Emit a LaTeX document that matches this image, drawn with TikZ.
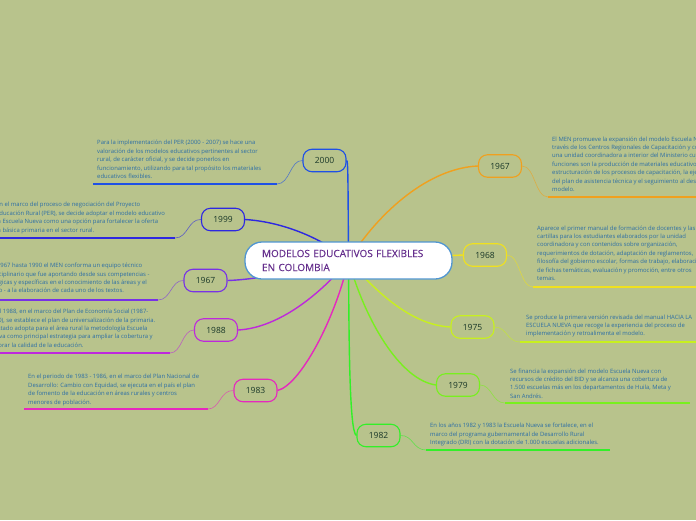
\documentclass[tikz,border=0pt]{standalone}
\usepackage{fontspec}
\setmainfont{Open Sans}
\newfontfamily\titlefont[FakeBold=0.4]{Open Sans}
\pgfdeclarelayer{bg}
\pgfdeclarelayer{edges}
\pgfsetlayers{bg,edges,main}
\definecolor{bgc}{RGB}{184,195,140}
\definecolor{desctext}{RGB}{45,110,165}
\definecolor{yeartext}{RGB}{25,55,40}
\definecolor{ctrtext}{RGB}{100,45,140}
\definecolor{ctrborder}{RGB}{80,150,210}
\definecolor{cA}{RGB}{30,80,230}
\definecolor{cB}{RGB}{45,40,225}
\definecolor{cC}{RGB}{120,50,230}
\definecolor{cD}{RGB}{190,40,220}
\definecolor{cE}{RGB}{230,40,190}
\definecolor{cF}{RGB}{240,160,30}
\definecolor{cG}{RGB}{240,225,30}
\definecolor{cH}{RGB}{200,240,30}
\definecolor{cI}{RGB}{120,240,30}
\definecolor{cJ}{RGB}{50,240,40}
\begin{document}
\begin{tikzpicture}[x=1pt,y=-1pt,
  year/.style={draw, rounded corners=9pt, minimum width=43pt, minimum height=22.5pt, line width=1.1pt, font=\fontsize{8.5}{9}\selectfont, text=yeartext, inner sep=0pt},
  desc/.style={anchor=west, align=left, inner sep=0pt, font=\fontsize{5.9}{8.4}\selectfont, text=desctext},
  branch/.style={line width=1.4pt},
  leader/.style={line width=0.6pt, opacity=0.65},
  uline/.style={line width=1.6pt}]
\useasboundingbox (0,0) rectangle (696,520);
\begin{pgfonlayer}{bg}
\fill[bgc] (0,0) rectangle (696,520);
\end{pgfonlayer}
\clip (0,0) rectangle (696,520);

% central node
\node[draw=ctrborder, fill=white, line width=1.3pt, rounded corners=17pt, minimum width=207pt, minimum height=37pt, text width=173pt, align=left, inner xsep=17pt, inner ysep=0pt, font=\titlefont\fontsize{10}{14}\selectfont, text=ctrtext] (ctr) at (348.5,260.5) {MODELOS EDUCATIVOS FLEXIBLES\\EN COLOMBIA};

% year nodes
\node[year, draw=cA] (y2000) at (324.5,160.5) {2000};
\node[year, draw=cB] (y1999) at (223,219.5) {1999};
\node[year, draw=cC] (y1967l) at (205.5,280.5) {1967};
\node[year, draw=cD] (y1988) at (216,330) {1988};
\node[year, draw=cE] (y1983) at (255.5,390.5) {1983};
\node[year, draw=cF] (y1967r) at (500,166) {1967};
\node[year, draw=cG] (y1968) at (485,255) {1968};
\node[year, draw=cH] (y1975) at (472.5,327) {1975};
\node[year, draw=cI] (y1979) at (458,385) {1979};
\node[year, draw=cJ] (y1982) at (378.5,435.5) {1982};

% underline end points
\coordinate (a2000) at (277,184); \coordinate (b2000) at (93,184);
\coordinate (a1999) at (175,238); \coordinate (b1999) at (0,238);
\coordinate (a1967l) at (158,300); \coordinate (b1967l) at (0,300);
\coordinate (a1988) at (170,353); \coordinate (b1988) at (0,353);
\coordinate (a1983) at (208,409); \coordinate (b1983) at (24,409);
\coordinate (a1967r) at (548,197); \coordinate (b1967r) at (696,197);
\coordinate (a1968) at (533,287); \coordinate (b1968) at (696,287);
\coordinate (a1975) at (520,342); \coordinate (b1975) at (696,342);
\coordinate (a1979) at (505,403); \coordinate (b1979) at (690,403);
\coordinate (a1982) at (426,450); \coordinate (b1982) at (610,450);

\begin{pgfonlayer}{edges}
% branches
\draw[branch, cA] (y2000.east) .. controls (348,160) and (348,175) .. (ctr.center);
\draw[branch, cB] (y1999.east) .. controls (285,222) and (325,240) .. (ctr.center);
\draw[branch, cC] (y1967l.east) .. controls (250,280) and (300,272) .. (ctr.center);
\draw[branch, cD] (y1988.east) .. controls (275,328) and (315,300) .. (ctr.center);
\draw[branch, cE] (y1983.east) .. controls (300,385) and (335,320) .. (ctr.center);
\draw[branch, cF] (y1967r.west) .. controls (430,168) and (380,210) .. (ctr.center);
\draw[branch, cG] (y1968.west) -- (ctr.center);
\draw[branch, cH] (y1975.west) .. controls (410,325) and (375,290) .. (ctr.center);
\draw[branch, cI] (y1979.west) .. controls (400,380) and (365,320) .. (ctr.center);
\draw[branch, cJ] (y1982.west) .. controls (349,433) and (349,330) .. (ctr.center);
% leaders
\draw[leader, cA] (y2000.west) .. controls (290,160) and (290,184) .. (a2000);
\draw[leader, cB] (y1999.west) .. controls (188,219) and (188,238) .. (a1999);
\draw[leader, cC] (y1967l.west) .. controls (171,280) and (171,300) .. (a1967l);
\draw[leader, cD] (y1988.west) .. controls (182,330) and (182,353) .. (a1988);
\draw[leader, cE] (y1983.west) .. controls (220,390) and (220,409) .. (a1983);
\draw[leader, cF] (y1967r.east) .. controls (535,166) and (535,197) .. (a1967r);
\draw[leader, cG] (y1968.east) .. controls (520,255) and (520,287) .. (a1968);
\draw[leader, cH] (y1975.east) .. controls (507,327) and (507,342) .. (a1975);
\draw[leader, cI] (y1979.east) .. controls (492,385) and (492,403) .. (a1979);
\draw[leader, cJ] (y1982.east) .. controls (413,435) and (413,450) .. (a1982);
% underlines
\draw[uline, cA] (a2000) -- (b2000);
\draw[uline, cB] (a1999) -- (b1999);
\draw[uline, cC] (a1967l) -- (b1967l);
\draw[uline, cD] (a1988) -- (b1988);
\draw[uline, cE] (a1983) -- (b1983);
\draw[uline, cF] (a1967r) -- (b1967r);
\draw[uline, cG] (a1968) -- (b1968);
\draw[uline, cH] (a1975) -- (b1975);
\draw[uline, cI] (a1979) -- (b1979);
\draw[uline, cJ] (a1982) -- (b1982);
\end{pgfonlayer}

% descriptions
\node[desc] (t2000) at (97,159.5) {Para la implementación del PER (2000 - 2007) se hace una\\valoración de los modelos educativos pertinentes al sector\\rural, de carácter oficial, y se decide ponerlos en\\funcionamiento, utilizando para tal propósito los materiales\\educativos flexibles.};
\node[desc] (t1999) at (-4,218) {En el marco del proceso de negociación del Proyecto\\Educación Rural (PER), se decide adoptar el modelo educativo\\la Escuela Nueva como una opción para fortalecer la oferta\\la básica primaria en el sector rural.};
\node[desc] (t1967l) at (-22,278) {Desde 1967 hasta 1990 el MEN conforma un equipo técnico\\interdisciplinario que fue aportando desde sus competencias -\\pedagógicas y específicas en el conocimiento de las áreas y el\\currículo - a la elaboración de cada uno de los textos.};
\node[desc] (t1988) at (-12,329) {En el 1988, en el marco del Plan de Economía Social (1987-\\1990), se establece el plan de universalización de la primaria.\\el Estado adopta para el área rural la metodología Escuela\\Nueva como principal estrategia para ampliar la cobertura y\\mejorar la calidad de la educación.};
\node[desc] (t1983) at (28,390) {En el periodo de 1983 - 1986, en el marco del Plan Nacional de\\Desarrollo: Cambio con Equidad, se ejecuta en el país el plan\\de fomento de la educación en áreas rurales y centros\\menores de población.};
\node[desc] (t1967r) at (552,164) {El MEN promueve la expansión del modelo Escuela Nueva a\\través de los Centros Regionales de Capacitación y con\\una unidad coordinadora a interior del Ministerio cuyas\\funciones son la producción de materiales educativos,\\estructuración de los procesos de capacitación, la ejecución\\del plan de asistencia técnica y el seguimiento al desarrollo del\\modelo.};
\node[desc] (t1968) at (537,253) {Aparece el primer manual de formación de docentes y las\\cartillas para los estudiantes elaborados por la unidad\\coordinadora y con contenidos sobre organización,\\requerimientos de dotación, adaptación de reglamentos,\\filosofía del gobierno escolar, formas de trabajo, elaboración\\de fichas temáticas, evaluación y promoción, entre otros\\temas.};
\node[desc] (t1975) at (526,326) {Se produce la primera versión revisada del manual HACIA LA\\ESCUELA NUEVA que recoge la experiencia del proceso de\\implementación y retroalimenta el modelo.};
\node[desc] (t1979) at (510,383.5) {Se financia la expansión del modelo Escuela Nueva con\\recursos de crédito del BID y se alcanza una cobertura de\\1.500 escuelas más en los departamentos de Huila, Meta y\\San Andrés.};
\node[desc] (t1982) at (430,434.5) {En los años 1982 y 1983 la Escuela Nueva se fortalece, en el\\marco del programa gubernamental de Desarrollo Rural\\Integrado (DRI) con la dotación de 1.000 escuelas adicionales.};
\end{tikzpicture}
\end{document}
